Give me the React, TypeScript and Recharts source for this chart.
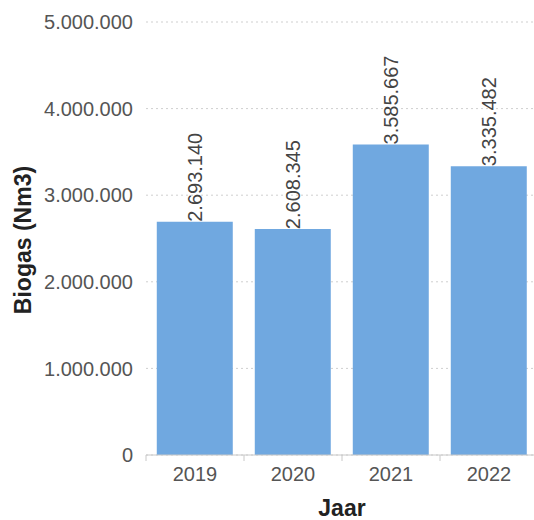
import React from 'react';
import { BarChart, Bar, XAxis, YAxis, CartesianGrid, LabelList, Label } from 'recharts';

const years = ['2019', '2020', '2021', '2022'];
const biogas = [2693140, 2608345, 3585667, 3335482];
const yTicks = [0, 1000000, 2000000, 3000000, 4000000, 5000000];

const data = years.map((y, i) => ({ year: y, value: biogas[i] }));

const fmt = (n: number) => String(Math.round(n)).replace(/\B(?=(\d{3})+(?!\d))/g, '.');

const FONT = 'Arial, "Liberation Sans", sans-serif';

const XTick = (props: any) => {
  const { x, y, payload } = props;
  const band = 98;
  return (
    <g>
      <line x1={x - band / 2} y1={y - 12} x2={x - band / 2} y2={y - 6} stroke="#c8c8c8" />
      <text x={x} y={y} dy="0.71em" textAnchor="middle" fill="#555" fontSize={20} fontFamily={FONT}>
        {payload.value}
      </text>
    </g>
  );
};

const ValueLabel = (props: any) => {
  const { x, y, width, value } = props;
  const cx = x + width / 2;
  return (
    <text
      x={cx + 7}
      y={y}
      transform={`rotate(-90 ${cx + 7} ${y})`}
      textAnchor="start"
      fill="#444"
      fontSize={20}
      fontFamily={FONT}
    >
      {fmt(value)}
    </text>
  );
};

export default function App() {
  return (
    <div style={{ position: 'absolute', left: 0, top: 0, width: 534, height: 520, overflow: 'hidden' }}>
      <BarChart
        width={540}
        height={520}
        data={data}
        margin={{ top: 22, right: 2, bottom: 0, left: 0 }}
        barCategoryGap="11%"
      >
        <CartesianGrid vertical={false} stroke="#cfcfcf" strokeDasharray="2 3" />
        <XAxis
          dataKey="year"
          height={65}
          axisLine={{ stroke: '#c8c8c8' }}
          tickLine={false}
          tickSize={6}
          tickMargin={6}
          tick={<XTick />}
          interval={0}
        >
          <Label
            content={() => (
              <text x={342} y={516} textAnchor="middle" fill="#222" fontSize={23} fontWeight="bold" fontFamily={FONT}>
                Jaar
              </text>
            )}
          />
        </XAxis>
        <YAxis
          width={146}
          domain={[0, 5000000]}
          ticks={yTicks}
          axisLine={false}
          tickLine={false}
          tickSize={0}
          tickMargin={13}
          tickFormatter={fmt}
          tick={{ fill: '#555', fontSize: 20, fontFamily: FONT }}
        >
          <Label
            content={() => (
              <text
                x={31}
                y={240}
                transform="rotate(-90 31 240)"
                textAnchor="middle"
                fill="#222"
                fontSize={23}
                fontWeight="bold"
                fontFamily={FONT}
              >
                Biogas (Nm3)
              </text>
            )}
          />
        </YAxis>
        <Bar dataKey="value" fill="#70a8e0" isAnimationActive={false}>
          <LabelList dataKey="value" content={<ValueLabel />} />
        </Bar>
      </BarChart>
    </div>
  );
}
